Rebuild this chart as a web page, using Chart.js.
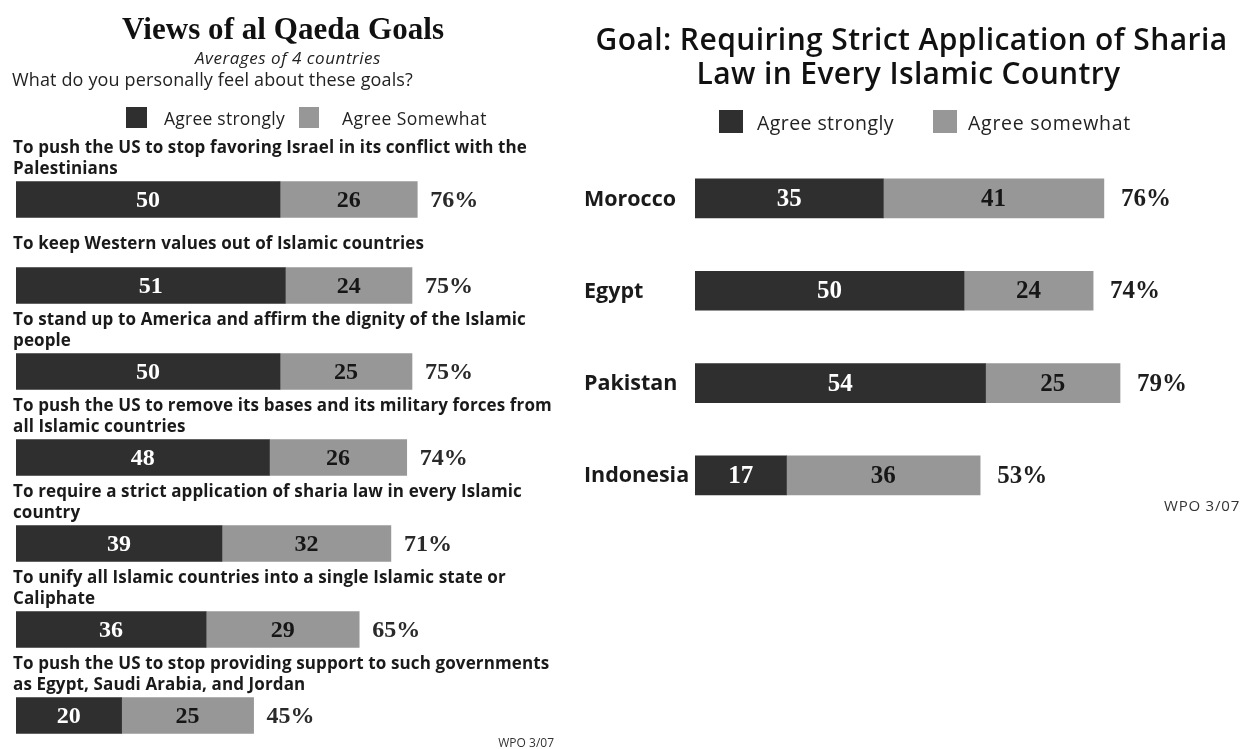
<!DOCTYPE html>
<html><head><meta charset="utf-8">
<script src="https://cdn.jsdelivr.net/npm/chart.js@4/dist/chart.umd.min.js"></script>
<style>
html,body{margin:0;padding:0;background:#fff;width:1244px;height:749px;overflow:hidden;position:relative}
.t{position:absolute;white-space:nowrap;color:#1a1a1a;line-height:1}
.sq{position:absolute}
canvas{position:absolute}
</style></head><body>
<canvas id="c1" width="560" height="760" style="left:0;top:0"></canvas>
<canvas id="c2" width="684" height="749" style="left:560px;top:0"></canvas>
<script>
// ---- data ----
const seriesNames = ["Agree strongly", "Agree Somewhat"];
const seriesNamesRight = ["Agree strongly", "Agree somewhat"];
const goalLabels = [
  ["To push the US to stop favoring Israel in its conflict with the", "Palestinians"],
  ["To keep Western values out of Islamic countries"],
  ["To stand up to America and affirm the dignity of the Islamic", "people"],
  ["To push the US to remove its bases and its military forces from", "all Islamic countries"],
  ["To require a strict application of sharia law in every Islamic", "country"],
  ["To unify all Islamic countries into a single Islamic state or", "Caliphate"],
  ["To push the US to stop providing support to such governments", "as Egypt, Saudi Arabia, and Jordan"]
];
const goalStrong = [50, 51, 50, 48, 39, 36, 20];
const goalSomewhat = [26, 24, 25, 26, 32, 29, 25];
const goalTotals = [76, 75, 75, 74, 71, 65, 45];
const countries = ["Morocco", "Egypt", "Pakistan", "Indonesia"];
const countryStrong = [35, 50, 54, 17];
const countrySomewhat = [41, 24, 25, 36];
const countryTotals = [76, 74, 79, 53];

const DARK = "#2f2f2f", GRAY = "#979797";

// ---- html text helpers ----
function txt(s, x, y, font, align, color, width) {
  const d = document.createElement("div");
  d.className = "t";
  d.textContent = s;
  d.style.font = font;
  d.style.left = x + "px";
  d.style.top = y + "px";
  if (color) d.style.color = color;
  document.body.appendChild(d);
  if (width) {
    const w = d.getBoundingClientRect().width;
    const ls = (width - w) / s.length;
    d.style.letterSpacing = ls + "px";
  }
  let tx = align === "center" ? "-50%" : (align === "right" ? "-100%" : "0");
  d.style.transform = "translate(" + tx + ",-50%)";
}
function sq(x, y, w, h, c) {
  const d = document.createElement("div");
  d.className = "sq";
  Object.assign(d.style, {left: x + "px", top: y + "px", width: w + "px", height: h + "px", background: c});
  document.body.appendChild(d);
}

// left panel texts
txt("Views of al Qaeda Goals", 283, 29, "bold 31px 'Liberation Serif'", "center", "#111", 322);
txt("Averages of 4 countries", 288, 57, "italic 17px 'Open Sans'", "center", "#222", 186);
txt("What do you personally feel about these goals?", 12, 79, "18px 'Open Sans'", "left", "#222", 401);
sq(126, 107, 21, 21, DARK);
txt(seriesNames[0], 164, 118, "17.5px 'Open Sans'", "left", "#222", 121);
sq(299, 107, 20, 21, GRAY);
txt(seriesNames[1], 342, 118, "17.5px 'Open Sans'", "left", "#222", 145);
txt("WPO 3/07", 554, 742, "12px 'Open Sans'", "right", "#333");

// right panel texts
txt("Goal: Requiring Strict Application of Sharia", 911.5, 38, "600 30px 'Open Sans'", "center", "#111", 632);
txt("Law in Every Islamic Country", 908.5, 72, "600 30px 'Open Sans'", "center", "#111", 424);
sq(719, 110, 24, 23, DARK);
txt(seriesNamesRight[0], 757, 122, "19.5px 'Open Sans'", "left", "#222", 137);
sq(933, 110, 24, 23, GRAY);
txt(seriesNamesRight[1], 968, 122, "19.5px 'Open Sans'", "left", "#222", 163);
txt("WPO 3/07", 1240, 505, "15px 'Open Sans'", "right", "#333", 76);

// ---- plugin drawing bar values, totals and category labels ----
const barText = {
  id: "barText",
  afterDatasetsDraw(chart, args, opts) {
    const ctx = chart.ctx;
    ctx.save();
    ctx.textBaseline = "middle";
    chart.data.datasets.forEach((ds, di) => {
      const meta = chart.getDatasetMeta(di);
      meta.data.forEach((bar, i) => {
        ctx.font = opts.valueFont;
        ctx.fillStyle = ds.valueColor;
        ctx.textAlign = "center";
        ctx.fillText(String(ds.data[i]), (bar.x + bar.base) / 2, bar.y + 1);
        if (di === chart.data.datasets.length - 1) {
          ctx.textAlign = "left";
          ctx.fillStyle = opts.totalColor;
          ctx.fillText(opts.totals[i] + "%", bar.x + opts.totalGap, bar.y + 1);
        }
      });
    });
    // category labels
    const ys = chart.scales.y;
    ctx.fillStyle = "#1a1a1a";
    ctx.font = opts.catFont;
    ctx.textAlign = "left";
    const first = chart.data.labels[0];
    const refLine = Array.isArray(first) ? first[0] : first;
    const w0 = ctx.measureText(refLine).width;
    if ("letterSpacing" in ctx) ctx.letterSpacing = ((opts.catRefWidth - w0) / refLine.length) + "px";
    chart.data.labels.forEach((lab, i) => {
      const yc = ys.getPixelForValue(i);
      const lines = Array.isArray(lab) ? lab : [lab];
      if (opts.catMode === "above") {
        const top = yc - opts.barH / 2;
        const lastY = lines.length > 1 ? top - 12 : top - 23;
        lines.forEach((ln, k) => {
          ctx.fillText(ln, opts.catX, lastY - (lines.length - 1 - k) * 21);
        });
      } else {
        ctx.fillText(lines[0], opts.catX, yc + 1);
      }
    });
    ctx.restore();
  }
};

function makeChart(id, labels, strong, somewhat, names, cfg) {
  return new Chart(document.getElementById(id), {
    type: "bar",
    data: {
      labels: labels,
      datasets: [
        {label: names[0], data: strong, backgroundColor: DARK, barThickness: cfg.barH, valueColor: "#ffffff"},
        {label: names[1], data: somewhat, backgroundColor: GRAY, barThickness: cfg.barH, valueColor: "#161616"}
      ]
    },
    options: {
      indexAxis: "y",
      responsive: false,
      animation: false,
      layout: {padding: cfg.padding},
      plugins: {
        legend: {display: false},
        tooltip: {enabled: false},
        barText: cfg.text
      },
      scales: {
        x: {stacked: true, min: 0, max: 100, display: false},
        y: {stacked: true, display: false, offset: true}
      }
    },
    plugins: [barText]
  });
}

makeChart("c1", goalLabels, goalStrong, goalSomewhat, seriesNames, {
  barH: 36,
  padding: {left: 16, right: 16, top: 156.5, bottom: 1.5},
  text: {valueFont: "bold 24px 'Liberation Serif'", totalColor: "#2a2a2a", totals: goalTotals, totalGap: 13,
         catFont: "bold 17px 'Open Sans'", catX: 13, catRefWidth: 514, catMode: "above", barH: 36}
});
makeChart("c2", countries, countryStrong, countrySomewhat, seriesNamesRight, {
  barH: 39,
  padding: {left: 135, right: 11, top: 152.3, bottom: 227.5},
  text: {valueFont: "bold 25px 'Liberation Serif'", totalColor: "#1e1e1e", totals: countryTotals, totalGap: 17,
         catFont: "bold 21.5px 'Open Sans'", catX: 24, catRefWidth: 92, catMode: "left", barH: 39}
});
</script>
</body></html>
